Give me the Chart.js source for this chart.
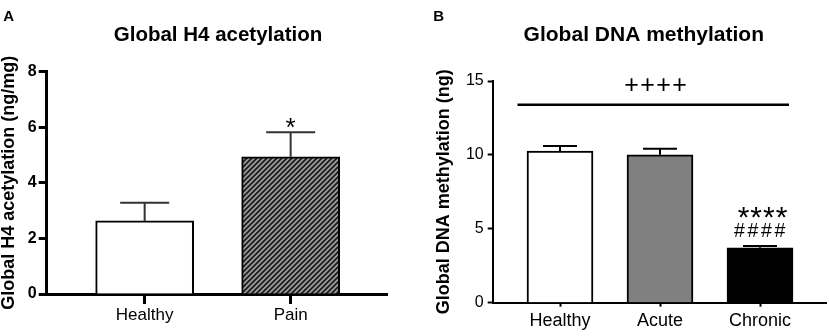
<!DOCTYPE html>
<html>
<head>
<meta charset="utf-8">
<script src="https://cdn.jsdelivr.net/npm/chart.js@4/dist/chart.umd.min.js"></script>
<style>
    html, body { margin: 0; padding: 0; background: #fff; }
    #wrap { position: relative; width: 829px; height: 336px; overflow: hidden; }
    canvas { position: absolute; top: 0; }
    #chart-a { left: 0; }
    #chart-b { left: 415px; }
</style>
</head>
<body>
<div id="wrap">
    <canvas id="chart-a" width="410" height="336"></canvas>
    <canvas id="chart-b" width="414" height="336"></canvas>
</div>
<script>
(function () {
    "use strict";

    var FONT = "'Liberation Sans', Arial, Helvetica, sans-serif";

    /* Panel A: global H4 acetylation (mean + SEM) */
    var catsA = ["Healthy", "Pain"];
    var meanA = [2.63, 4.94];
    var semA = [0.65, 0.88];
    var yTicksA = [0, 2, 4, 6, 8];

    /* Panel B: global DNA methylation (mean + SEM) */
    var catsB = ["Healthy", "Acute", "Chronic"];
    var meanB = [10.26, 10.01, 3.72];
    var semB = [0.34, 0.41, 0.12];
    var yTicksB = [0, 5, 10, 15];
    var compLineB = 13.4;

    Chart.defaults.font.family = FONT;
    Chart.defaults.color = "#000";

    function hatch() {
        var c = document.createElement("canvas");
        c.width = 5; c.height = 5;
        var g = c.getContext("2d");
        g.fillStyle = "#9c9c9c";
        g.fillRect(0, 0, 5, 5);
        g.strokeStyle = "#1a1a1a";
        g.lineWidth = 1.7;
        g.beginPath();
        g.moveTo(-1, 6); g.lineTo(6, -1);
        g.moveTo(-2, 2); g.lineTo(2, -2);
        g.moveTo(3, 7); g.lineTo(7, 3);
        g.stroke();
        return g.createPattern(c, "repeat");
    }

    function errorBars(means, sems, cap, color, width) {
        return {
            id: "errorBars",
            afterDatasetsDraw: function (chart) {
                var xs = chart.scales.x, ys = chart.scales.y, ctx = chart.ctx;
                ctx.save();
                ctx.strokeStyle = color;
                ctx.lineWidth = width;
                means.forEach(function (m, i) {
                    var x = xs.getPixelForValue(i + 1);
                    var y0 = ys.getPixelForValue(m);
                    var y1 = ys.getPixelForValue(m + sems[i]);
                    ctx.beginPath();
                    ctx.moveTo(x, y0); ctx.lineTo(x, y1);
                    ctx.moveTo(x - cap, y1); ctx.lineTo(x + cap, y1);
                    ctx.stroke();
                });
                ctx.restore();
            }
        };
    }

    function label(ctx, str, x, y, font, align, spacing) {
        ctx.font = font;
        ctx.textAlign = align || "center";
        ctx.textBaseline = "alphabetic";
        ctx.letterSpacing = spacing || "0px";
        ctx.fillStyle = "#000";
        ctx.fillText(str, x, y);
        ctx.letterSpacing = "0px";
    }

    function catAxis(cats, min, max, size, tickLen, lineW, pad, height) {
        return {
            type: "linear",
            min: min,
            max: max,
            offset: false,
            afterBuildTicks: function (s) {
                s.ticks = cats.map(function (c, i) { return { value: i + 1 }; });
            },
            afterFit: function (s) { s.height = height; },
            ticks: {
                autoSkip: false,
                maxRotation: 0,
                padding: pad,
                font: { size: size },
                callback: function (v) { return cats[v - 1]; }
            },
            grid: { offset: false, drawOnChartArea: false, tickLength: tickLen, tickWidth: lineW, tickColor: "#000" },
            border: { color: "#000", width: lineW }
        };
    }

    function valAxis(ticks, title, tickFont, tickLen, lineW, pad, width, titlePad) {
        return {
            min: ticks[0],
            max: ticks[ticks.length - 1],
            afterBuildTicks: function (s) {
                s.ticks = ticks.map(function (v) { return { value: v }; });
            },
            afterFit: function (s) { s.width = width; },
            ticks: { padding: pad, font: tickFont },
            grid: { drawOnChartArea: false, tickLength: tickLen, tickWidth: lineW, tickColor: "#000" },
            border: { color: "#000", width: lineW },
            title: {
                display: true,
                text: title,
                color: "#000",
                padding: { top: titlePad, bottom: 0 },
                font: { size: 18, weight: "bold", lineHeight: 1.05 }
            }
        };
    }

    /* Panel A */
    new Chart(document.getElementById("chart-a"), {
        type: "bar",
        data: {
            datasets: [{
                data: catsA.map(function (c, i) { return { x: i + 1, y: meanA[i] }; }),
                backgroundColor: ["#ffffff", hatch()],
                borderColor: "#000",
                borderWidth: 2,
                barThickness: 98
            }]
        },
        options: {
            responsive: false,
            animation: false,
            layout: { padding: { top: 71.7, right: 23, left: 0, bottom: 0 } },
            plugins: { legend: { display: false }, tooltip: { enabled: false } },
            scales: {
                x: catAxis(catsA, 0.329, 2.66, 17, 10, 3, 1.5, 42),
                y: valAxis(yTicksA, "Global H4 acetylation (ng/mg)", { size: 16, weight: "bold" }, 8, 3, 2, 46.7, 0)
            }
        },
        plugins: [
            errorBars(meanA, semA, 24.5, "#333", 2),
            {
                id: "textA",
                afterDraw: function (chart) {
                    var ctx = chart.ctx, xs = chart.scales.x, ys = chart.scales.y;
                    label(ctx, "A", 3.3, 20.7, "bold 15px " + FONT, "left");
                    label(ctx, "Global H4 acetylation", 218, 40.7, "bold 20.5px " + FONT);
                    var top = ys.getPixelForValue(meanA[1] + semA[1]);
                    label(ctx, "*", xs.getPixelForValue(2), top + 4, "26px " + FONT);
                }
            }
        ]
    });

    /* Panel B */
    new Chart(document.getElementById("chart-b"), {
        type: "bar",
        data: {
            datasets: [{
                data: catsB.map(function (c, i) { return { x: i + 1, y: meanB[i] }; }),
                backgroundColor: ["#ffffff", "#808080", "#000000"],
                borderColor: "#000",
                borderWidth: 2,
                barThickness: 66
            }]
        },
        options: {
            responsive: false,
            animation: false,
            layout: { padding: { top: 81, right: 3, left: 0, bottom: 0 } },
            plugins: { legend: { display: false }, tooltip: { enabled: false } },
            scales: {
                x: catAxis(catsB, 0.327, 3.66, 18, 4, 2, 4, 33.3),
                y: valAxis(yTicksB, "Global DNA methylation (ng)", { size: 16 }, 5, 2, 4, 77.7, 19.5)
            }
        },
        plugins: [
            errorBars(meanB, semB, 17, "#000", 2),
            {
                id: "textB",
                afterDraw: function (chart) {
                    var ctx = chart.ctx, xs = chart.scales.x, ys = chart.scales.y;
                    label(ctx, "B", 18.3, 20.7, "bold 15px " + FONT, "left");
                    label(ctx, "Global DNA methylation", 228.8, 40.7, "bold 21px " + FONT);

                    var x0 = xs.getPixelForValue(0.575), x1 = xs.getPixelForValue(3.29);
                    var ly = ys.getPixelForValue(compLineB);
                    ctx.save();
                    ctx.strokeStyle = "#000";
                    ctx.lineWidth = 2.5;
                    ctx.beginPath();
                    ctx.moveTo(x0, ly);
                    ctx.lineTo(x1, ly);
                    ctx.stroke();
                    ctx.restore();
                    label(ctx, "++++", (x0 + x1) / 2 + 3, ly - 12, "25px " + FONT, "center", "1.4px");

                    var cx = xs.getPixelForValue(3);
                    var top = ys.getPixelForValue(meanB[2] + semB[2]);
                    label(ctx, "####", cx + 1, top - 9, "19.5px " + FONT, "center", "2.7px");
                    label(ctx, "****", cx + 3, top - 18.5, "30px " + FONT, "center", "1px");
                }
            }
        ]
    });
})();
</script>
</body>
</html>
